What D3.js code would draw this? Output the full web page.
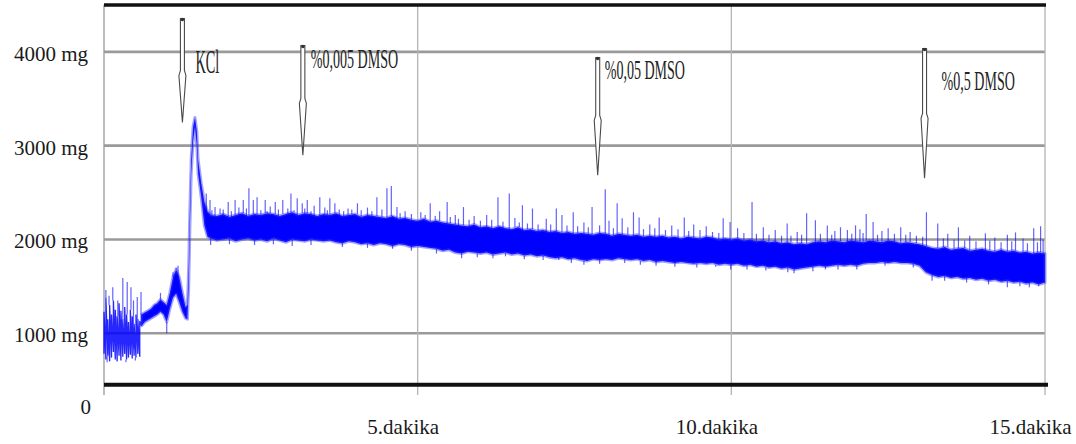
<!DOCTYPE html>
<html>
<head>
<meta charset="utf-8">
<script src="https://cdn.jsdelivr.net/npm/d3@7"></script>
<style>
body { margin: 0; background: #fff; }
svg { display: block; }
text { font-family: "Liberation Serif", "Times New Roman", serif; }
</style>
</head>
<body>
<svg id="chart" width="1076" height="444"></svg>
<script>
const width = 1076
const height = 444

// trace envelope (minutes, mg)
const times = [0,0.03,0.06,0.09,0.12,0.15,0.18,0.21,0.24,0.27,0.3,0.33,0.36,0.39,0.42,0.45,0.48,0.51,0.54,0.57,
    0.6,0.65,0.7,0.75,0.8,0.85,0.9,0.95,1,1.05,1.1,1.15,1.2,1.25,1.3,1.33,1.35,1.37,1.39,1.42,1.45,1.48,1.5,1.55,1.6,1.65,
    1.7,1.8,1.9,2,2.1,2.2,2.3,2.4,2.5,2.6,2.7,2.8,2.9,3,3.1,3.2,3.3,3.4,3.5,3.6,3.7,3.8,3.9,4,4.1,4.2,4.3,4.4,4.5,4.6,
    4.7,4.8,4.9,5,5.1,5.2,5.3,5.4,5.5,5.6,5.7,5.8,5.9,6,6.1,6.2,6.3,6.4,6.5,6.6,6.7,6.8,6.9,7,7.1,7.2,7.3,7.4,7.5,7.6,
    7.7,7.8,7.9,8,8.1,8.2,8.3,8.4,8.5,8.6,8.7,8.8,8.9,9,9.1,9.2,9.3,9.4,9.5,9.6,9.7,9.8,9.9,10,10.1,10.2,10.3,10.4,10.5,10.6,
    10.7,10.8,10.9,11,11.1,11.2,11.3,11.4,11.5,11.6,11.7,11.8,11.9,12,12.1,12.2,12.3,12.4,12.5,12.6,12.7,12.8,12.9,13,13.1,13.2,13.3,13.4,13.5,13.6,
    13.7,13.8,13.9,14,14.1,14.2,14.3,14.4,14.5,14.6,14.7,14.8,14.9,15]

const lows = [780,720,760,700,740,800,720,700,760,710,750,780,720,740,770,730,760,740,780,750,
    1080,1120,1140,1160,1180,1200,1230,1200,1120,1260,1380,1420,1330,1230,1160,1150,1500,2150,2700,3050,3200,3000,2700,2450,2150,2030,
    2010,1990,2000,2010,1980,2000,2010,1990,2000,1980,2010,1990,1970,2000,1990,1980,2000,1990,1980,1990,
    1970,1960,1980,1970,1950,1960,1940,1960,1950,1930,1950,1940,1920,1930,1920,1910,1900,1880,1890,1860,
    1850,1870,1860,1850,1860,1840,1850,1860,1840,1850,1830,1840,1820,1830,1810,1800,1810,1790,1800,1780,
    1770,1790,1780,1790,1780,1800,1790,1780,1790,1770,1780,1760,1770,1760,1750,1760,1750,1740,1750,1740,
    1750,1730,1740,1730,1740,1720,1730,1710,1720,1700,1710,1690,1700,1680,1690,1700,1710,1720,1710,1720,
    1730,1720,1730,1720,1740,1750,1750,1760,1750,1760,1750,1750,1740,1720,1650,1620,1600,1610,1590,1600,
    1580,1590,1570,1580,1560,1570,1550,1560,1540,1550,1530,1540,1520,1540]

const highs = [1230,1380,1150,1300,1200,1350,1250,1180,1320,1240,1150,1280,1200,1120,1250,1180,1100,1200,1150,1130,
    1200,1220,1240,1260,1300,1320,1360,1330,1300,1430,1600,1680,1600,1430,1280,1300,1700,2350,2850,3200,3300,3150,2850,2600,2400,2300,
    2260,2250,2270,2240,2260,2280,2250,2270,2260,2280,2270,2250,2270,2290,2260,2280,2270,2250,2270,2260,
    2280,2250,2260,2270,2240,2260,2250,2240,2230,2250,2220,2230,2210,2200,2220,2190,2200,2180,2170,2160,
    2150,2140,2160,2130,2140,2120,2140,2120,2110,2130,2100,2110,2090,2100,2080,2090,2070,2080,2060,2070,
    2060,2050,2070,2060,2040,2060,2050,2040,2050,2030,2040,2030,2040,2020,2030,2010,2030,2020,2010,2030,
    2020,2000,2010,2000,2010,1990,2000,1980,1990,1970,1980,1960,1970,1950,1960,1950,1970,1980,1970,1990,
    1980,1970,1990,1980,1970,1990,1980,1970,1990,1980,1960,1970,1960,1950,1930,1910,1900,1920,1890,1900,
    1910,1880,1890,1900,1880,1870,1890,1870,1880,1860,1870,1850,1860,1850]

// single spikes sticking out of the band (minutes, mg)
const spikeTimes = [0.03,0.08,0.14,0.22,0.3,0.37,0.43,0.47,0.53,0.59,0.9,1.1,1.15,1.18,0.05,0.2,0.35,0.5,1.0,
    1.63,1.69,1.77,1.85,1.98,2.09,2.15,2.22,2.31,2.38,2.44,2.57,2.65,2.73,2.85,2.93,2.98,3.08,3.16,3.24,3.35,3.44,3.52,3.6,3.68,
    3.89,3.95,4.04,4.2,4.35,4.51,4.58,4.67,4.8,5.05,5.2,5.35,5.47,5.6,5.73,5.9,6.1,6.28,6.46,6.55,6.67,6.83,7.05,7.21,7.3,7.48,
    7.65,7.78,7.99,8.05,8.18,8.26,8.44,8.53,8.7,8.85,9.05,9.25,9.4,9.6,9.87,9.98,10.1,10.33,10.51,10.7,10.89,11.05,11.2,11.34,
    11.53,11.65,11.74,11.85,11.98,12.05,12.15,12.26,12.4,12.5,12.7,12.85,13.11,13.29,13.45,13.62,13.8,14.05,14.2,14.4,14.53,14.65,14.82,14.93,
    1.72,1.9,2.03,2.27,2.5,2.6,2.78,3.03,3.2,3.3,3.56,3.75,3.82,4.1,4.27,4.43,4.72,4.9,5.12,5.28,5.52,5.65,5.82,6.0,6.18,6.36,
    6.62,6.75,6.92,7.12,7.38,7.55,7.72,7.9,8.12,8.35,8.6,8.78,8.95,9.15,9.32,9.5,9.7,9.8,10.2,10.4,10.6,10.8,10.95,11.12,11.42,
    11.6,11.92,12.1,12.33,12.6,12.78,12.95,13.05,13.38,13.55,13.72,13.9,14.12,14.3,14.47,14.72,14.88,14.97,
    1.7,2.0,2.4,2.7,3.0,3.3,3.8,4.2,4.6,4.9,5.3,5.7,5.95,6.2,6.4,6.7,7.0,7.25,7.45,7.65,7.9,8.3,8.55,8.8,9.1,9.45,9.75,9.99,
    10.25,10.55,10.9,11.0,11.3,11.5,11.7,12.0,12.45,12.9,13.2,13.4,13.75,14.1,14.4,14.6,14.75,14.9]
const spikeValues = [1460,1400,1490,1350,1590,1545,1490,1350,1385,1440,1430,1650,1700,1720,690,700,690,710,1000,
    2490,2420,2345,2330,2400,2420,2340,2420,2545,2420,2450,2420,2350,2400,2420,2330,2490,2440,2385,2420,2360,2450,2340,2440,2385,
    2330,2320,2385,2340,2450,2545,2570,2345,2300,2290,2385,2300,2400,2260,2345,2250,2260,2450,2490,2230,2365,2330,2220,2330,2260,2290,
    2180,2345,2535,2200,2385,2225,2290,2235,2160,2235,2150,2235,2160,2140,2225,2185,2120,2400,2130,2100,2170,2080,2280,2205,
    2150,2090,2130,2100,2150,2110,2270,2185,2090,2120,2130,2080,2290,2170,2060,2130,2040,2065,2020,2050,2075,2010,2120,2140,
    2310,2320,2300,2330,2310,2300,2320,2310,2330,2300,2310,2320,2300,2310,2300,2320,2280,2270,2260,2250,2240,2220,2210,2200,2210,2190,
    2180,2170,2160,2160,2150,2140,2130,2150,2120,2130,2110,2120,2100,2110,2090,2100,2080,2070,2070,2060,2050,2040,2040,2050,2060,
    2050,2060,2070,2050,2060,2050,2040,2030,2010,2000,1990,1980,1990,1970,1980,1960,1970,2000,
    1940,1950,1940,1950,1930,1940,1920,1910,1900,1880,1850,1800,1810,1800,1820,1790,1780,1780,1750,1730,1740,1750,1730,1720,1710,1700,1710,1680,
    1680,1670,1650,1640,1660,1680,1680,1680,1720,1700,1560,1560,1540,1520,1490,1500,1490,1500]

const yTicks = [1000, 2000, 3000, 4000]
const xTicks = [5, 10, 15]
const xTickLabels = ['5.dakika', '10.dakika', '15.dakika']

// injection markers (minutes, mg)
const markerNames = ['KCl', '%0,005 DMSO', '%0,05 DMSO', '%0,5 DMSO']
const markerTimes = [1.25, 3.17, 7.87, 13.08]
const markerTop = [4356, 4068, 3940, 4036]
const markerHead = [3802, 3504, 3323, 3344]
const markerTip = [3248, 2897, 2684, 2652]
const markerLabelAt = [3770, 3823, 3706, 3589]

const x = d3.scaleLinear().domain([0, 15]).range([104, 1045])
const y = d3.scaleLinear().domain([0, 4500]).range([427, 5])

const svg = d3.select('#chart')
    .attr('viewBox', [0, 0, width, height])

svg.append('rect')
    .attr('width', width)
    .attr('height', height)
    .attr('fill', '#fff')

// horizontal grid
svg.append('g')
    .selectAll('line')
    .data(yTicks)
    .join('line')
    .attr('x1', x(0))
    .attr('x2', x(15))
    .attr('y1', d => y(d))
    .attr('y2', d => y(d))
    .attr('stroke', '#9a9a9a')
    .attr('stroke-width', 2.6)

// vertical grid, running a bit below the base line
svg.append('g')
    .selectAll('line')
    .data([0].concat(xTicks))
    .join('line')
    .attr('x1', d => x(d))
    .attr('x2', d => x(d))
    .attr('y1', y(4500))
    .attr('y2', y(340))
    .attr('stroke', d => d === 0 ? '#999' : '#b4b4b4')
    .attr('stroke-width', 1.3)

// the trace
const pts = times.map((t, i) => ({t: t, lo: lows[i], hi: highs[i]}))
const noisy = pts.filter(d => d.t <= 0.6)
const steady = pts.filter(d => d.t >= 0.6)

// first half minute: sparse up/down strokes rather than a filled band
const zigzag = d3.line()
    .x(d => x(d[0]))
    .y(d => y(d[1]))

svg.append('path')
    .datum(noisy.flatMap(d => [[d.t, d.lo], [d.t, d.hi]]))
    .attr('d', zigzag)
    .attr('fill', 'none')
    .attr('stroke', '#0000ff')
    .attr('stroke-opacity', 0.85)
    .attr('stroke-width', 1.3)

const band = d3.area()
    .x(d => x(d.t))
    .y0(d => y(d.lo))
    .y1(d => y(d.hi))

svg.append('path')
    .datum(steady)
    .attr('d', band)
    .attr('fill', '#0000ff')
    .attr('stroke', '#3333ff')
    .attr('stroke-opacity', 0.45)
    .attr('stroke-width', 3)
    .attr('stroke-linejoin', 'round')

const spikes = spikeTimes.map((t, i) => {
    const j = d3.bisectCenter(times, t)
    const v = spikeValues[i]
    const base = v > highs[j] ? highs[j] : (v < lows[j] ? lows[j] : v)
    return {t: t, v: v, base: base}
})

svg.append('g')
    .selectAll('line')
    .data(spikes)
    .join('line')
    .attr('x1', d => x(d.t))
    .attr('x2', d => x(d.t))
    .attr('y1', d => y(d.base))
    .attr('y2', d => y(d.v))
    .attr('stroke', '#0000ff')
    .attr('stroke-opacity', 0.62)
    .attr('stroke-width', 1.2)

// heavy frame lines top and bottom
svg.append('line')
    .attr('x1', x(0)).attr('x2', x(15) + 1)
    .attr('y1', y(4500)).attr('y2', y(4500))
    .attr('stroke', '#111')
    .attr('stroke-width', 3.5)

svg.append('line')
    .attr('x1', x(0)).attr('x2', x(15) + 3)
    .attr('y1', y(450)).attr('y2', y(450))
    .attr('stroke', '#111')
    .attr('stroke-width', 4)

// axes labels
const yAxis = svg.append('g')
    .attr('transform', `translate(${x(0)},0)`)
    .call(d3.axisLeft(y).tickValues(yTicks).tickFormat(d => d + ' mg').tickSize(0).tickPadding(16))
yAxis.select('.domain').remove()
yAxis.selectAll('text')
    .attr('dy', '0.4em')
    .attr('fill', '#1a1a1a')
    .style('font-size', '21px')
    .style('font-family', '"Liberation Serif", serif')

svg.append('text')
    .attr('x', 91)
    .attr('y', 414)
    .attr('text-anchor', 'end')
    .attr('fill', '#1a1a1a')
    .style('font-size', '21px')
    .text('0')

const xAxis = svg.append('g')
    .attr('transform', 'translate(0,419)')
    .call(d3.axisBottom(x).tickValues(xTicks).tickFormat((d, i) => xTickLabels[i]).tickSize(0).tickPadding(0))
xAxis.select('.domain').remove()
xAxis.selectAll('text')
    .attr('dx', -15)
    .attr('fill', '#1a1a1a')
    .style('font-size', '21px')
    .style('font-family', '"Liberation Serif", serif')

// markers: hollow arrows with condensed labels
const labelDx = [13, 8, 7, 17]
const labelSize = [34, 27, 27, 27]
const labelSqueeze = [0.42, 0.52, 0.52, 0.52]

markerNames.forEach((name, i) => {
    const cx = x(markerTimes[i])
    const top = y(markerTop[i])
    const head = y(markerHead[i])
    const tip = y(markerTip[i])
    const g = svg.append('g')

    g.append('path')
        .attr('d', `M${cx - 2},${top} L${cx + 2},${top} L${cx + 2},${head} L${cx + 3.5},${head + 5}
            L${cx},${tip} L${cx - 3.5},${head + 5} L${cx - 2},${head} Z`)
        .attr('fill', '#fff')
        .attr('stroke', '#4a4a4a')
        .attr('stroke-width', 1.1)

    g.append('circle')
        .attr('cx', cx)
        .attr('cy', top + 1)
        .attr('r', 1.8)
        .attr('fill', '#333')

    g.append('text')
        .attr('transform', `translate(${cx + labelDx[i]},${y(markerLabelAt[i])}) scale(${labelSqueeze[i]},1)`)
        .attr('fill', '#222')
        .style('font-size', labelSize[i] + 'px')
        .text(name)
})
</script>
</body>
</html>
